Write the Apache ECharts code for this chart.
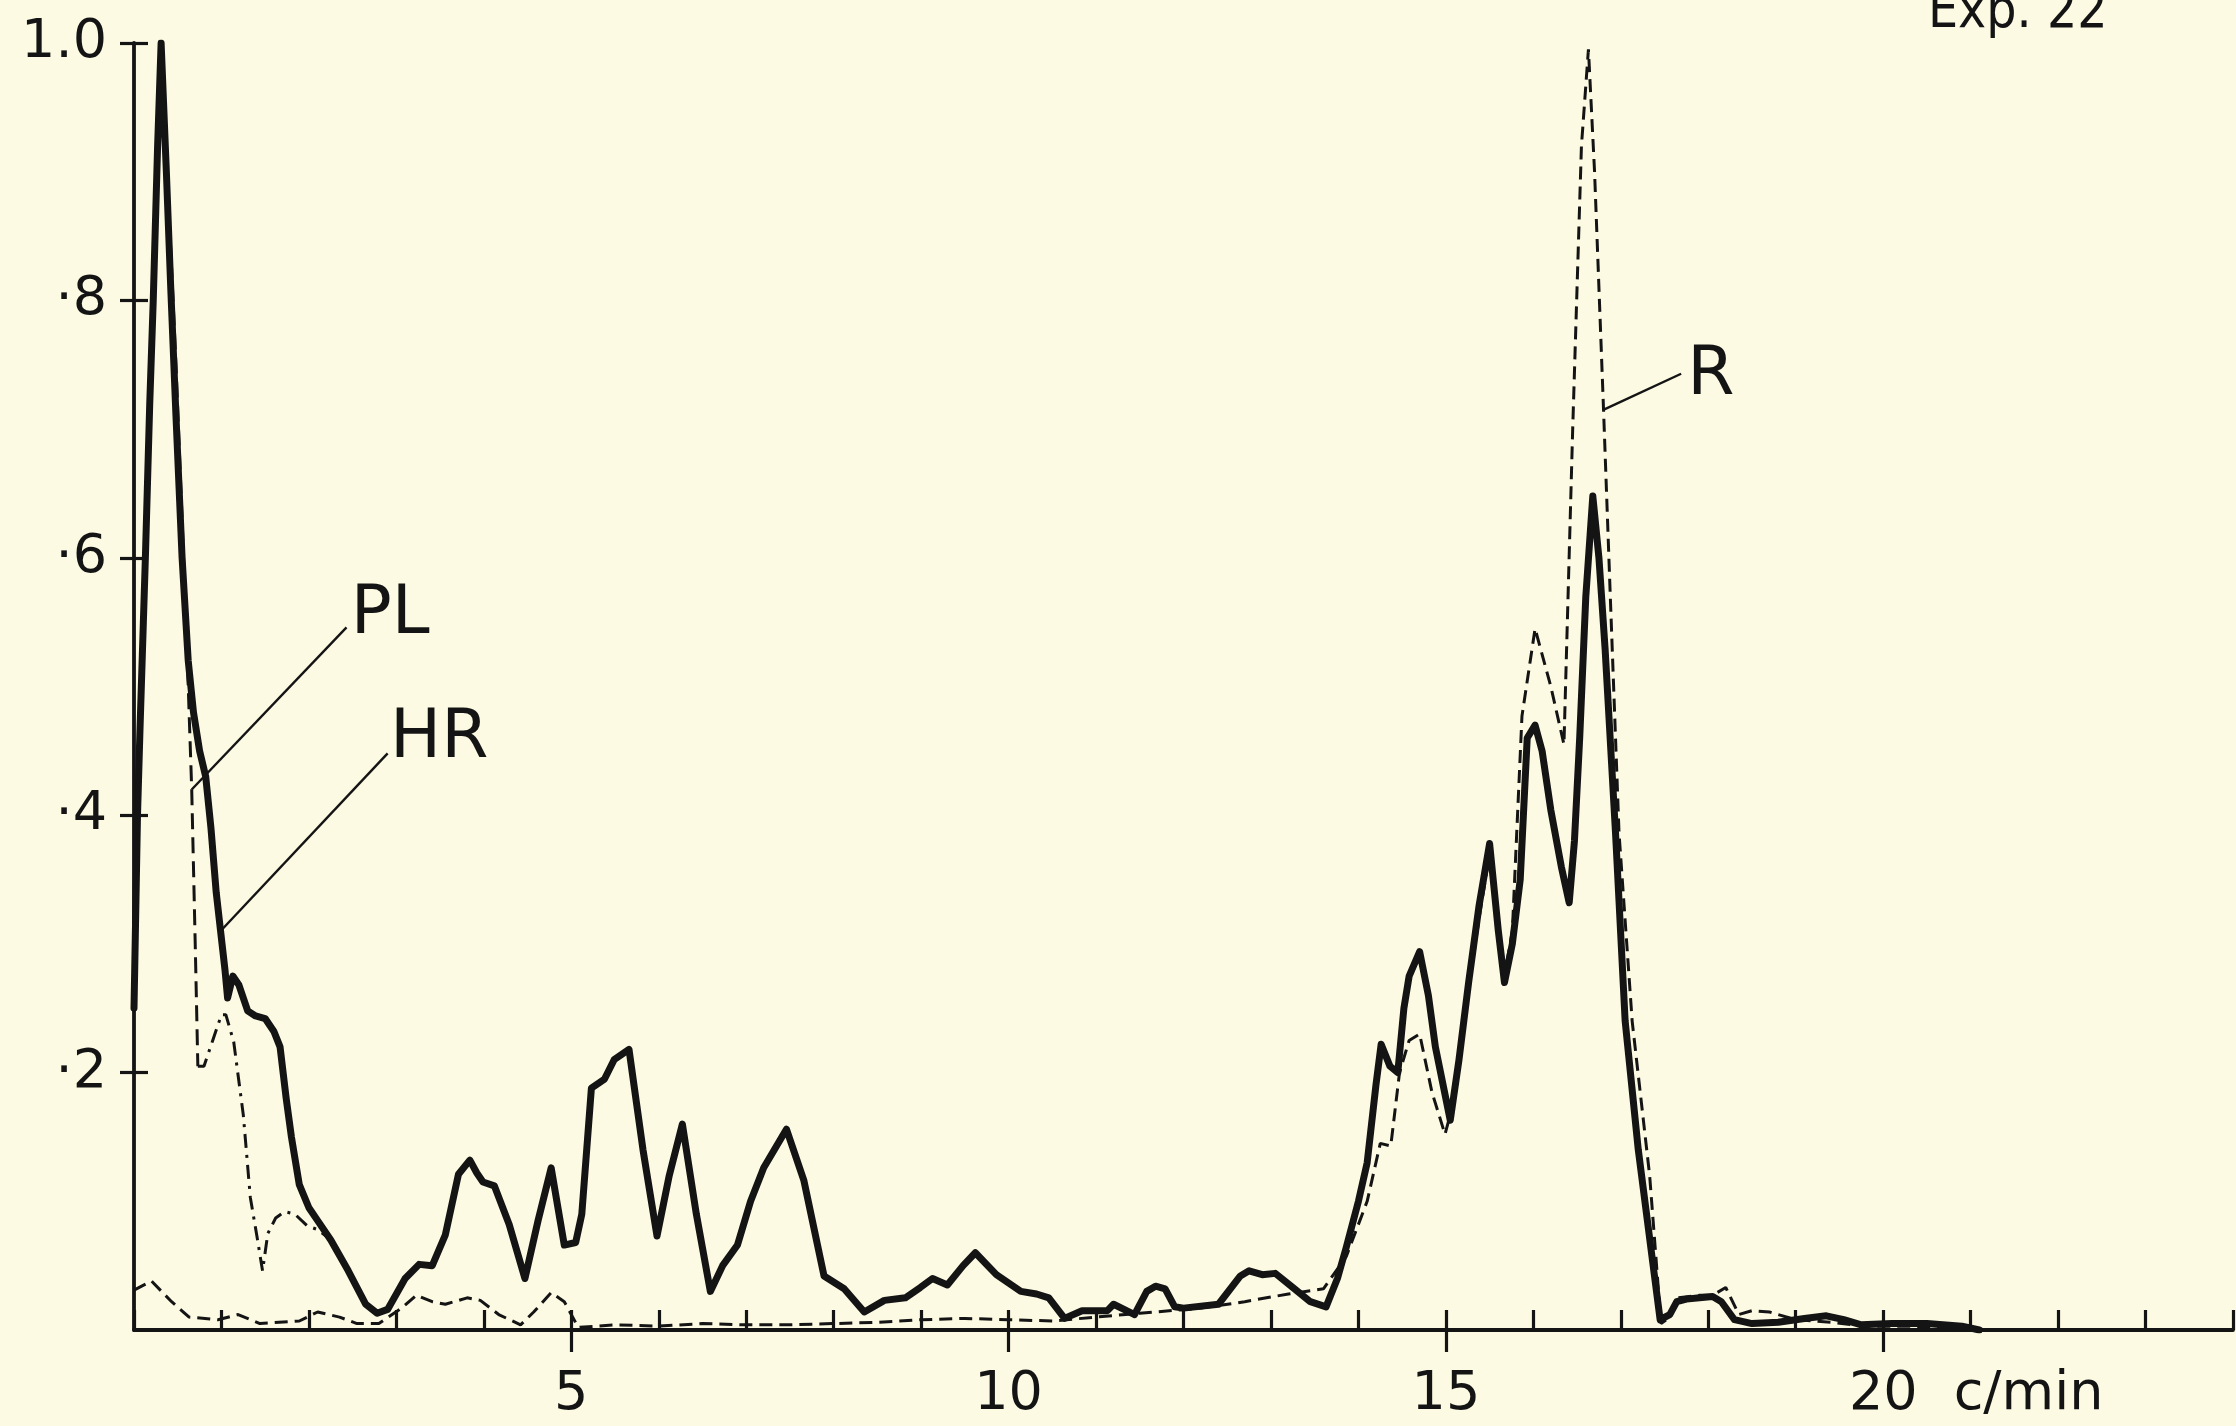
<!DOCTYPE html>
<html><head><meta charset="utf-8">
<script src="https://cdn.jsdelivr.net/npm/echarts@6/dist/echarts.min.js"></script>
<style>html,body{margin:0;padding:0;background:#fcfae3;}#c{width:2236px;height:1426px;}</style>
</head><body><div id="c"></div>
<script>
// ---- data (frequency in c/min, normalised power) ----
const hrX = [0.00,0.04,0.07,0.13,0.18,0.22,0.27,0.31,0.37,0.42,0.48,0.55,0.62,0.68,0.75,0.82,0.88,0.94,0.99,1.04,1.07,1.13,1.20,1.30,1.39,1.50,1.60,1.67,1.74,1.80,1.89,2.00,2.10,2.25,2.45,2.65,2.78,2.90,3.10,3.26,3.41,3.56,3.71,3.84,3.92,3.99,4.12,4.29,4.47,4.62,4.77,4.92,5.05,5.12,5.23,5.38,5.49,5.66,5.82,5.98,6.12,6.27,6.43,6.59,6.73,6.90,7.05,7.20,7.46,7.66,7.89,8.12,8.35,8.58,8.82,8.99,9.13,9.30,9.48,9.62,9.86,10.14,10.32,10.46,10.64,10.84,11.13,11.20,11.32,11.44,11.58,11.68,11.79,11.90,12.00,12.40,12.65,12.75,12.90,13.05,13.25,13.45,13.63,13.76,13.86,14.00,14.10,14.20,14.26,14.36,14.45,14.52,14.58,14.70,14.80,14.88,15.05,15.15,15.26,15.38,15.50,15.60,15.67,15.76,15.85,15.93,16.02,16.10,16.20,16.32,16.41,16.47,16.53,16.60,16.68,16.75,16.82,16.94,17.05,17.20,17.37,17.45,17.56,17.64,17.75,17.90,18.05,18.15,18.30,18.50,18.80,19.10,19.35,19.55,19.75,20.10,20.50,20.90,21.10];
const hrY = [0.25,0.40,0.47,0.60,0.72,0.80,0.92,1.00,0.90,0.81,0.71,0.60,0.52,0.48,0.45,0.43,0.39,0.34,0.31,0.28,0.258,0.275,0.268,0.248,0.244,0.242,0.232,0.22,0.18,0.15,0.113,0.095,0.085,0.07,0.046,0.02,0.013,0.016,0.04,0.051,0.05,0.074,0.121,0.132,0.122,0.115,0.112,0.082,0.04,0.085,0.126,0.066,0.068,0.09,0.188,0.195,0.21,0.218,0.14,0.073,0.12,0.16,0.09,0.03,0.05,0.066,0.10,0.126,0.156,0.116,0.042,0.032,0.014,0.023,0.025,0.033,0.04,0.035,0.05,0.06,0.043,0.03,0.028,0.025,0.009,0.015,0.015,0.02,0.016,0.012,0.03,0.034,0.032,0.018,0.017,0.02,0.042,0.046,0.043,0.044,0.033,0.022,0.018,0.04,0.064,0.10,0.13,0.19,0.222,0.205,0.20,0.25,0.275,0.294,0.26,0.22,0.163,0.21,0.27,0.33,0.378,0.31,0.27,0.30,0.35,0.46,0.47,0.45,0.404,0.36,0.332,0.38,0.46,0.57,0.648,0.60,0.53,0.386,0.24,0.14,0.05,0.008,0.012,0.022,0.024,0.025,0.026,0.022,0.008,0.005,0.006,0.009,0.011,0.008,0.004,0.005,0.005,0.003,0.0];

const plX = [0.00,0.04,0.07,0.13,0.18,0.22,0.27,0.31,0.34,0.42,0.48,0.55,0.62,0.66,0.70,0.73,0.80,0.90,1.00,1.05,1.14,1.25,1.33,1.41,1.47,1.53,1.62,1.72,1.84,1.98,2.10,2.25,2.45];
const plY = [0.25,0.40,0.47,0.60,0.72,0.80,0.90,0.95,0.93,0.84,0.75,0.63,0.50,0.42,0.30,0.205,0.205,0.225,0.245,0.245,0.224,0.167,0.103,0.071,0.046,0.075,0.087,0.092,0.09,0.081,0.078,0.07,0.046];
const plDashedEnd = 0.73; // PL drawn dashed up to here, dash-dot afterwards

const rX = [0.00,0.20,0.43,0.63,0.96,1.19,1.44,1.89,2.10,2.35,2.55,2.80,3.06,3.23,3.41,3.56,3.81,3.96,4.17,4.42,4.57,4.77,4.92,5.08,5.50,6.00,6.50,7.00,7.50,8.00,8.50,9.00,9.50,10.00,10.50,11.00,11.50,12.20,12.70,13.20,13.60,13.86,14.10,14.25,14.37,14.47,14.58,14.70,14.84,14.99,15.10,15.26,15.38,15.50,15.60,15.67,15.76,15.87,16.02,16.20,16.35,16.45,16.55,16.63,16.70,16.80,16.88,16.98,17.13,17.33,17.46,17.56,17.64,17.90,18.05,18.20,18.35,18.50,18.70,19.00,19.40,19.80,20.30,21.00];
const rY = [0.031,0.038,0.022,0.010,0.008,0.012,0.005,0.007,0.014,0.010,0.005,0.005,0.017,0.027,0.022,0.020,0.025,0.023,0.012,0.004,0.014,0.029,0.022,0.002,0.004,0.003,0.005,0.004,0.004,0.005,0.006,0.008,0.009,0.008,0.007,0.010,0.013,0.017,0.022,0.028,0.032,0.057,0.10,0.145,0.143,0.20,0.225,0.23,0.185,0.152,0.18,0.265,0.32,0.37,0.31,0.275,0.31,0.477,0.545,0.50,0.455,0.70,0.92,0.995,0.90,0.72,0.57,0.386,0.24,0.12,0.005,0.01,0.025,0.027,0.027,0.033,0.012,0.015,0.014,0.008,0.006,0.003,0.003,0.0];

const xLabelValues = [5, 10, 15, 20];
const xLabelTexts = ['5', '10', '15', '20 c/min'];
const yLabelValues = [0.2, 0.4, 0.6, 0.8, 1.0];
const yLabelTexts = ['·2', '·4', '·6', '·8', '1.0'];

const seriesNames = { pl: 'PL', hr: 'HR', r: 'R' };
const titleText = 'Exp. 22';

// annotation anchors (data coordinates)
const labelAnchors = [
  { name: 'PL', coord: [2.93, 0.555] },
  { name: 'HR', coord: [3.49, 0.459] },
  { name: 'R', coord: [18.03, 0.741] }
];
const leaderLines = [
  [[2.43, 0.546], [0.66, 0.42]],
  [[2.90, 0.448], [0.99, 0.31]],
  [[17.69, 0.743], [16.80, 0.715]]
];

// ---- build ----
const pairs = (xs, ys) => xs.map((x, i) => [x, ys[i]]);
const hrData = pairs(hrX, hrY);
const rData = pairs(rX, rY);
const plAll = pairs(plX, plY);
const plA = plAll.filter(p => p[0] <= plDashedEnd);
const plB = plAll.filter(p => p[0] >= plDashedEnd);

const INK = '#141414';
const FONT = "'DejaVu Sans', 'Liberation Sans', sans-serif";
const NARROW = "'DejaVu Sans Condensed', 'Liberation Sans Narrow', 'Liberation Sans', sans-serif";
const TICK_FS = 54;

const chart = echarts.init(document.getElementById('c'), null, { renderer: 'canvas' });
chart.setOption({
  backgroundColor: '#fcfae3',
  animation: false,
  grid: { left: 134, right: 0, top: 43, bottom: 96, containLabel: false },
  xAxis: [
    {
      type: 'value', min: 0, max: 24, interval: 1,
      axisLine: { show: true, lineStyle: { color: INK, width: 3.8 } },
      axisTick: { show: true, inside: true, length: 20, lineStyle: { color: INK, width: 3.2 } },
      splitLine: { show: false },
      axisLabel: {
        show: true, margin: 38, color: INK, fontFamily: FONT, fontSize: TICK_FS,
        formatter: v => {
          const i = xLabelValues.indexOf(v);
          if (i < 0) return '';
          const t = xLabelTexts[i];
          if (t.indexOf(' ') > 0) {
            const a = t.slice(0, t.indexOf(' '));
            const b = t.slice(t.indexOf(' ') + 1);
            return '{n|' + a + '}{u|' + b + '}';
          }
          return t;
        },
        rich: {
          n: { fontFamily: FONT, fontSize: TICK_FS, color: INK, padding: [0, 0, 0, 186] },
          u: { fontFamily: FONT, fontSize: TICK_FS, color: INK, padding: [0, 0, 0, 36] }
        }
      }
    },
    {
      type: 'value', min: 0, max: 24, interval: 5, position: 'bottom',
      axisLine: { show: false },
      axisTick: { show: true, inside: false, length: 22, lineStyle: { color: INK, width: 3.2 }, customValues: xLabelValues },
      axisLabel: { show: false },
      splitLine: { show: false }
    }
  ],
  yAxis: [
    {
      type: 'value', min: 0, max: 1, interval: 0.2,
      axisLine: { show: true, lineStyle: { color: INK, width: 3.8 } },
      axisTick: { show: true, inside: true, length: 14, lineStyle: { color: INK, width: 3.2 }, customValues: yLabelValues },
      splitLine: { show: false },
      axisLabel: {
        show: true, margin: 27, color: INK, fontFamily: FONT, fontSize: TICK_FS,
        formatter: v => {
          const i = yLabelValues.findIndex(y => Math.abs(y - v) < 1e-6);
          return i < 0 ? '' : yLabelTexts[i];
        }
      }
    },
    {
      type: 'value', min: 0, max: 1, interval: 0.2, position: 'left',
      axisLine: { show: false },
      axisTick: { show: true, inside: false, length: 14, lineStyle: { color: INK, width: 3.2 }, customValues: yLabelValues },
      axisLabel: { show: false },
      splitLine: { show: false }
    }
  ],
  graphic: [
    {
      type: 'text', x: 1928, y: 40,
      style: { text: titleText, fill: INK, font: '53px ' + NARROW, textAlign: 'left', textVerticalAlign: 'bottom' }
    }
  ],
  series: [
    {
      name: seriesNames.r, type: 'line', data: rData, showSymbol: false, z: 3,
      lineStyle: { color: INK, width: 3, type: [13, 7] }
    },
    {
      name: seriesNames.pl, type: 'line', data: plA, showSymbol: false, z: 3,
      lineStyle: { color: INK, width: 3, type: [16, 8] }
    },
    {
      name: seriesNames.pl, type: 'line', data: plB, showSymbol: false, z: 3,
      lineStyle: { color: INK, width: 3, type: [14, 7, 3, 7] }
    },
    {
      name: seriesNames.hr, type: 'line', data: hrData, showSymbol: false, z: 4,
      lineStyle: { color: INK, width: 7, join: 'round', cap: 'round' },
      markLine: {
        silent: true, symbol: ['none', 'none'], animation: false,
        label: { show: false },
        lineStyle: { color: INK, width: 2.4, type: 'solid' },
        emphasis: { disabled: true },
        data: leaderLines.map(l => [{ coord: l[0] }, { coord: l[1] }])
      },
      markPoint: {
        silent: true, symbol: 'circle', symbolSize: 1, animation: false,
        itemStyle: { color: 'rgba(0,0,0,0)' },
        label: { show: true, position: 'inside', formatter: '{b}', color: INK, fontFamily: FONT, fontSize: 68 },
        data: labelAnchors.map(a => ({ name: a.name, coord: a.coord }))
      }
    }
  ]
});
</script>
</body></html>
